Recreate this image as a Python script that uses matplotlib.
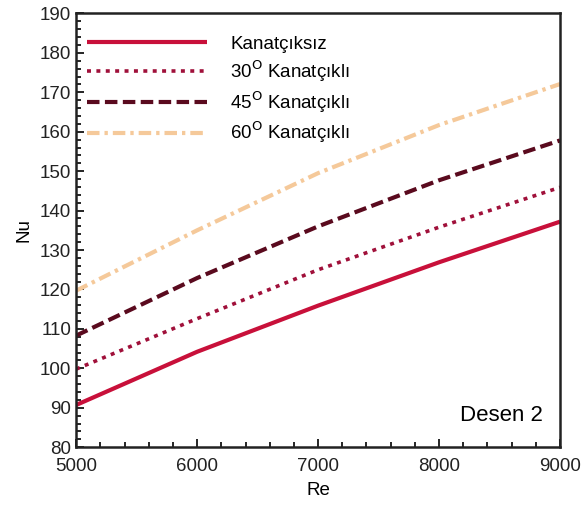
import matplotlib
matplotlib.use("Agg")
import matplotlib.pyplot as plt
from matplotlib.ticker import MultipleLocator

plt.rcParams['font.family'] = ['Liberation Sans', 'DejaVu Sans']

re_vals = [5000, 6000, 7000, 8000, 9000]
nu_none = [90.7, 104.2, 115.9, 126.9, 137.2]
nu_30 = [99.8, 112.6, 125.0, 135.8, 145.9]
nu_45 = [108.3, 122.9, 136.0, 147.7, 157.8]
nu_60 = [119.7, 135.0, 149.5, 161.7, 172.1]

labels = ["Kanatçıksız", "30$^{\\mathrm{O}}$ Kanatçıklı",
          "45$^{\\mathrm{O}}$ Kanatçıklı", "60$^{\\mathrm{O}}$ Kanatçıklı"]

fig = plt.figure(figsize=(5.81, 5.17), dpi=100)
ax = fig.add_axes([0.131, 0.135, 0.833, 0.839])

ax.plot(re_vals, nu_none, color='#C8103A', lw=3.0, solid_capstyle='butt', label=labels[0])
ax.plot(re_vals, nu_30, color='#A0103A', lw=2.6, linestyle=(0, (1.1, 1.5)), label=labels[1])
ax.plot(re_vals, nu_45, color='#5A0A1E', lw=3.0, linestyle=(0, (3.0, 1.3)), label=labels[2])
ax.plot(re_vals, nu_60, color='#F5C99A', lw=3.0, linestyle=(0, (3.0, 1.2, 0.8, 1.2)), label=labels[3])

ax.set_xlim(5000, 9000)
ax.set_ylim(80, 190)
ax.xaxis.set_major_locator(MultipleLocator(1000))
ax.xaxis.set_minor_locator(MultipleLocator(200))
ax.yaxis.set_major_locator(MultipleLocator(10))
ax.yaxis.set_minor_locator(MultipleLocator(2))
ax.tick_params(which='both', direction='in', top=False, right=False,
               labelsize=13.5, labelcolor='#222222', width=1.2)
ax.tick_params(which='major', length=6)
ax.tick_params(which='minor', length=3.5)
ax.tick_params(axis='x', pad=8)
for s in ax.spines.values():
    s.set_linewidth(1.8)
    s.set_color('#222222')

ax.set_xlabel('Re', fontsize=13.5, labelpad=5)
ax.set_ylabel('Nu', fontsize=13.5, labelpad=5)

leg = ax.legend(loc='upper left', frameon=False, fontsize=13.5, handlelength=6.4,
                handletextpad=1.23, labelspacing=0.29, bbox_to_anchor=(0.0, 0.975),
                borderaxespad=0.2)

ax.text(0.965, 0.05, 'Desen 2', transform=ax.transAxes, ha='right', va='bottom',
        fontsize=16, color='black')

fig.savefig('out.png', dpi=100)
